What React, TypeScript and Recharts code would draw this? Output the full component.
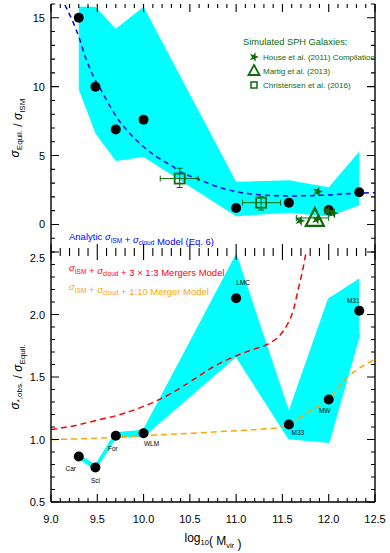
import React from 'react';
import { ComposedChart, Area, Line, Scatter, XAxis, YAxis, ErrorBar } from 'recharts';

// log10(Mvir) of the observed galaxies, shared by both panels
const galaxyMass = [9.3, 9.48, 9.7, 10.0, 11.0, 11.57, 12.0, 12.33];
const galaxyNames = ['Car', 'Scl', 'For', 'WLM', 'LMC', 'M33', 'MW', 'M31'];

// top panel: sigma_equil / sigma_ISM
const equilRatio = [15.0, 10.0, 6.9, 7.6, 1.2, 1.57, 1.04, 2.34];
const equilLow = [9.8, 6.6, 4.6, 4.9, 0.6, 0.85, 0.57, 1.4];
const equilHigh = [15.8, 15.8, 14.2, 15.8, 3.1, 3.2, 2.7, 5.3];

const analyticMass = [9.15, 9.3, 9.37, 9.46, 9.55, 9.64, 9.73, 9.85, 10.0, 10.14, 10.29, 10.43, 10.57, 10.75, 11.0, 11.27, 11.58, 12.0, 12.33, 12.5];
const analyticRatio = [15.93, 13.63, 12.18, 10.72, 9.64, 8.55, 7.58, 6.62, 5.64, 4.92, 4.32, 3.71, 3.35, 2.85, 2.38, 2.14, 2.07, 2.14, 2.28, 2.3];

// simulated SPH galaxies
const houseMass = [11.88, 11.69, 11.87, 11.99, 12.05];
const houseRatio = [2.38, 0.27, 0.37, 0.98, 0.81];
const martigMass = [11.85];
const martigRatio = [0.47];
const martigErrX = [[0.2, 0.15]];
const christensenMass = [10.39, 11.27];
const christensenRatio = [3.33, 1.58];
const christensenErrX = [[0.21, 0.2], [0.2, 0.21]];
const christensenErrY = [[0.65, 0.75], [0.54, 0.42]];

// bottom panel: sigma_obs / sigma_equil
const obsRatio = [0.864, 0.776, 1.03, 1.05, 2.13, 1.12, 1.32, 2.03];
const obsLow = [0.85, 0.765, 1.02, 1.03, 1.67, 1.01, 0.98, 1.84];
const obsHigh = [0.875, 0.79, 1.05, 1.07, 2.47, 1.21, 2.12, 2.28];

const major3Mass = [9.0, 9.25, 9.5, 9.75, 10.0, 10.25, 10.5, 10.75, 11.0, 11.18, 11.36, 11.48, 11.56, 11.62, 11.67, 11.72, 11.76];
const major3Ratio = [1.08, 1.11, 1.155, 1.2, 1.265, 1.35, 1.46, 1.58, 1.67, 1.72, 1.77, 1.84, 1.93, 2.04, 2.2, 2.36, 2.52];
const minor10Mass = [9.0, 9.5, 10.0, 10.5, 11.0, 11.22, 11.5, 11.57, 11.7, 11.76, 11.9, 12.0, 12.19, 12.35, 12.5];
const minor10Ratio = [1.0, 1.01, 1.03, 1.05, 1.07, 1.08, 1.1, 1.12, 1.18, 1.21, 1.27, 1.32, 1.49, 1.58, 1.64];

// ticks
const xTicks = [9.0, 9.1, 9.2, 9.3, 9.4, 9.5, 9.6, 9.7, 9.8, 9.9, 10.0, 10.1, 10.2, 10.3, 10.4, 10.5, 10.6, 10.7, 10.8, 10.9, 11.0, 11.1, 11.2, 11.3, 11.4, 11.5, 11.6, 11.7, 11.8, 11.9, 12.0, 12.1, 12.2, 12.3, 12.4, 12.5];
const xLabels = [9.0, 9.5, 10.0, 10.5, 11.0, 11.5, 12.0, 12.5];
const topYTicks = [-2, -1, 0, 1, 2, 3, 4, 5, 6, 7, 8, 9, 10, 11, 12, 13, 14, 15, 16];
const topYLabels = [0, 5, 10, 15];
const botYTicks = [0.5, 0.6, 0.7, 0.8, 0.9, 1.0, 1.1, 1.2, 1.3, 1.4, 1.5, 1.6, 1.7, 1.8, 1.9, 2.0, 2.1, 2.2, 2.3, 2.4, 2.5];
const botYLabels = [0.5, 1.0, 1.5, 2.0, 2.5];

const GREEN = '#0d6b0d';
const CYAN = '#00ffff';
const FONT = '"Liberation Sans", Arial, Helvetica, sans-serif';

// plot boxes (page pixels)
const PLOT_L = 51;
const PLOT_R = 375;
const TOP_BOX = { top: 4, bottom: 252, lo: -2, hi: 16 };
const BOT_BOX = { top: 252, bottom: 502, lo: 0.5, hi: 2.5 };

const pairs = (xs: number[], ys: number[]) => xs.map((m, i) => ({ m, v: ys[i] }));

const equilBand = galaxyMass.map((m, i) => ({ m, band: [equilLow[i], equilHigh[i]] }));
const equilDots = pairs(galaxyMass, equilRatio);
const analyticCurve = pairs(analyticMass, analyticRatio);
const houseDots = pairs(houseMass, houseRatio);
const martigDots = martigMass.map((m, i) => ({ m, v: martigRatio[i], ex: martigErrX[i] }));
const christensenDots = christensenMass.map((m, i) => ({
  m,
  v: christensenRatio[i],
  ex: christensenErrX[i],
  ey: christensenErrY[i],
}));

const obsBand = galaxyMass.map((m, i) => ({ m, band: [obsLow[i], obsHigh[i]] }));
const obsDots = galaxyMass.map((m, i) => ({ m, v: obsRatio[i], name: galaxyNames[i] }));
const major3Curve = pairs(major3Mass, major3Ratio);
const minor10Curve = pairs(minor10Mass, minor10Ratio);

const labelOffsets: Record<string, [number, number]> = {
  Car: [-8, 12],
  Scl: [0, 13],
  For: [-3, 13],
  WLM: [8, 10],
  LMC: [7, -16],
  M33: [9, 8],
  MW: [-4, 11],
  M31: [-6, -10],
};

const isMajor = (majors: number[], v: number) => majors.some((mv) => Math.abs(mv - v) < 1e-6);

// tick labels only; the inward marks are drawn by FrameMarks
function TickLabel(props: any) {
  const { x, y, payload, side, majors, showLabel, fmt, topNudge } = props;
  const v: number = payload.value;
  if (!showLabel || !isMajor(majors, v)) return <g />;
  if (side === 'left') {
    const isTop = Math.abs(v - majors[majors.length - 1]) < 1e-6;
    return (
      <text x={x - 6} y={y + 4 + (isTop ? topNudge || 0 : 0)} textAnchor="end" fontSize={11} fill="#000" fontFamily={FONT}>
        {fmt(v)}
      </text>
    );
  }
  return (
    <text x={x} y={y + 21} textAnchor="middle" fontSize={11} fill="#000" fontFamily={FONT}>
      {fmt(v)}
    </text>
  );
}

function FrameMarks({ box, yTicks, yLabels }: any) {
  const xPx = (v: number) => PLOT_L + ((v - 9) / 3.5) * (PLOT_R - PLOT_L);
  const yPx = (v: number) => box.bottom - ((v - box.lo) / (box.hi - box.lo)) * (box.bottom - box.top);
  const segs: string[] = [];
  xTicks.forEach((v) => {
    const len = isMajor(xLabels, v) ? 8 : 4;
    const px = xPx(v);
    segs.push(`M${px},${box.top}v${len}`, `M${px},${box.bottom}v${-len}`);
  });
  yTicks.forEach((v: number) => {
    const len = isMajor(yLabels, v) ? 8 : 4;
    const py = yPx(v);
    segs.push(`M${PLOT_L},${py}h${len}`, `M${PLOT_R},${py}h${-len}`);
  });
  return <path d={segs.join('')} stroke="#000" strokeWidth={1.1} fill="none" />;
}

const axisLine = { stroke: '#000', strokeWidth: 1.4 };

function BlackDot(props: any) {
  const { cx, cy } = props;
  return <circle cx={cx} cy={cy} r={5} fill="#000" />;
}

function GalaxyDot(props: any) {
  const { cx, cy, payload } = props;
  const off = labelOffsets[payload.name] || [0, 12];
  return (
    <g>
      <circle cx={cx} cy={cy} r={5} fill="#000" />
      <text x={cx + off[0]} y={cy + off[1] + 2.3} textAnchor="middle" fontSize={6.5} fill="#000" fontFamily={FONT}>
        {payload.name}
      </text>
    </g>
  );
}

function starPoints(cx: number, cy: number, ro: number, ri: number) {
  const pts: string[] = [];
  for (let k = 0; k < 10; k++) {
    const r = k % 2 === 0 ? ro : ri;
    const a = -Math.PI / 2 + 0.3 + (k * Math.PI) / 5;
    pts.push(`${cx + r * Math.cos(a)},${cy + r * Math.sin(a)}`);
  }
  return pts.join(' ');
}

function GreenStar(props: any) {
  const { cx, cy } = props;
  return <polygon points={starPoints(cx, cy, 5.5, 2.2)} fill={GREEN} />;
}

function OpenSquare(props: any) {
  const { cx, cy } = props;
  return <rect x={cx - 5} y={cy - 5} width={10} height={10} fill="none" stroke={GREEN} strokeWidth={1.8} />;
}

function OpenTriangle(props: any) {
  const { cx, cy } = props;
  return (
    <polygon
      points={`${cx},${cy - 10} ${cx + 9},${cy + 8} ${cx - 9},${cy + 8}`}
      fill="none"
      stroke={GREEN}
      strokeWidth={2.2}
    />
  );
}

function frame(yDomain: number[], yTicks: number[], yLabels: number[], yFmt: (v: number) => string, bottomLabels: boolean, topNudge = 0) {
  const xFmt = (v: number) => v.toFixed(1);
  return [
    <XAxis
      key="xb"
      xAxisId="b"
      type="number"
      dataKey="m"
      domain={[9, 12.5]}
      allowDataOverflow
      ticks={xTicks}
      interval={0}
      tickSize={0}
      tickMargin={0}
      height={bottomLabels ? 51 : 0}
      axisLine={axisLine}
      tickLine={false}
      tick={<TickLabel side="bottom" majors={xLabels} showLabel={bottomLabels} fmt={xFmt} />}
    />,
    <XAxis
      key="xt"
      xAxisId="t"
      orientation="top"
      type="number"
      dataKey="m"
      domain={[9, 12.5]}
      allowDataOverflow
      ticks={xTicks}
      tickSize={0}
      height={0}
      axisLine={axisLine}
      tickLine={false}
      tick={false}
    />,
    <YAxis
      key="yl"
      yAxisId="l"
      type="number"
      domain={yDomain}
      allowDataOverflow
      ticks={yTicks}
      interval={0}
      tickSize={0}
      tickMargin={0}
      width={51}
      axisLine={axisLine}
      tickLine={false}
      tick={<TickLabel side="left" majors={yLabels} showLabel fmt={yFmt} topNudge={topNudge} />}
    />,
    <YAxis
      key="yr"
      yAxisId="r"
      orientation="right"
      type="number"
      domain={yDomain}
      allowDataOverflow
      ticks={yTicks}
      tickSize={0}
      width={1}
      axisLine={axisLine}
      tickLine={false}
      tick={false}
    />,
  ];
}

const sub = (t: string, size = 6.5, shift = 2.5) => [
  <tspan key={t + 'a'} dy={shift} fontSize={size}>
    {t}
  </tspan>,
  <tspan key={t + 'b'} dy={-shift}>
    {''}
  </tspan>,
];

export default function App() {
  const ax = { xAxisId: 'b', yAxisId: 'l' };
  return (
    <div style={{ position: 'absolute', left: 0, top: 0, width: 390, height: 553, background: '#fff', fontFamily: FONT }}>
      <div style={{ position: 'absolute', left: 0, top: 0 }}>
        <ComposedChart width={390} height={253} margin={{ top: 4, right: 14, bottom: 1, left: 0 }}>
          {frame([-2, 16], topYTicks, topYLabels, (v) => String(v), false)}
          <Area {...ax} data={equilBand} dataKey="band" type="linear" fill={CYAN} fillOpacity={1} stroke="none" isAnimationActive={false} />
          <Line {...ax} data={analyticCurve} dataKey="v" type="monotone" stroke="#0000ff" strokeWidth={1.5} strokeDasharray="5 4" dot={false} isAnimationActive={false} />
          <Scatter {...ax} data={equilDots} dataKey="v" shape={BlackDot} isAnimationActive={false} />
          <Scatter {...ax} data={christensenDots} dataKey="v" shape={OpenSquare} isAnimationActive={false}>
            <ErrorBar dataKey="ex" direction="x" width={3} stroke={GREEN} strokeWidth={1} />
            <ErrorBar dataKey="ey" direction="y" width={3} stroke={GREEN} strokeWidth={1} />
          </Scatter>
          <Scatter {...ax} data={martigDots} dataKey="v" shape={OpenTriangle} isAnimationActive={false}>
            <ErrorBar dataKey="ex" direction="x" width={3} stroke={GREEN} strokeWidth={1} />
          </Scatter>
          <Scatter {...ax} data={houseDots} dataKey="v" shape={GreenStar} isAnimationActive={false} />
        </ComposedChart>
      </div>
      <div style={{ position: 'absolute', left: 0, top: 247 }}>
        <ComposedChart width={390} height={306} margin={{ top: 5, right: 14, bottom: 0, left: 0 }}>
          {frame([0.5, 2.5], botYTicks, botYLabels, (v) => v.toFixed(1), true, 6)}
          <Area {...ax} data={obsBand} dataKey="band" type="linear" fill={CYAN} fillOpacity={1} stroke={CYAN} strokeWidth={2} isAnimationActive={false} />
          <Line {...ax} data={major3Curve} dataKey="v" type="monotone" stroke="#ff0000" strokeWidth={1.5} strokeDasharray="6 4" dot={false} isAnimationActive={false} />
          <Line {...ax} data={minor10Curve} dataKey="v" type="monotone" stroke="#ffa500" strokeWidth={1.5} strokeDasharray="6 4" dot={false} isAnimationActive={false} />
          <Scatter {...ax} data={obsDots} dataKey="v" shape={GalaxyDot} isAnimationActive={false} />
        </ComposedChart>
      </div>
      <svg width={390} height={553} style={{ position: 'absolute', left: 0, top: 0, pointerEvents: 'none' }} fontFamily={FONT}>
        <FrameMarks box={TOP_BOX} yTicks={topYTicks} yLabels={topYLabels} />
        <FrameMarks box={BOT_BOX} yTicks={botYTicks} yLabels={botYLabels} />

        {/* legend, top panel */}
        <text x={243} y={45} fontSize={9.3} fill={GREEN}>Simulated SPH Galaxies:</text>
        <polygon points={starPoints(254, 57, 5, 2)} fill={GREEN} />
        <text x={263} y={60} fontSize={8} fill={GREEN}>House et al. (2011) Compilation</text>
        <polygon points="254,65 259.5,75 248.5,75" fill="none" stroke={GREEN} strokeWidth={1.8} />
        <text x={263} y={74} fontSize={8} fill={GREEN}>Martig et al. (2013)</text>
        <rect x={251} y={82} width={6} height={6} fill="none" stroke={GREEN} strokeWidth={1.5} />
        <text x={263} y={88} fontSize={8} fill={GREEN}>Christensen et al. (2016)</text>

        <text x={69} y={240} fontSize={9.5} fill="#0000ff">
          Analytic <tspan fontStyle="italic">σ</tspan>
          {sub('ISM')} + <tspan fontStyle="italic">σ</tspan>
          {sub('cloud')} Model (Eq. 6)
        </text>

        <text x={69} y={271} fontSize={9.5} fill="#ff0000">
          <tspan fontStyle="italic">σ</tspan>
          {sub('ISM')} + <tspan fontStyle="italic">σ</tspan>
          {sub('cloud')} + 3 × 1:3 Mergers Model
        </text>
        <text x={69} y={290} fontSize={9.5} fill="#ffa500">
          <tspan fontStyle="italic">σ</tspan>
          {sub('ISM')} + <tspan fontStyle="italic">σ</tspan>
          {sub('cloud')} + 1:10 Merger Model
        </text>

        {/* axis titles */}
        <text transform="translate(19,128) rotate(-90)" textAnchor="middle" fontSize={12} fill="#000">
          <tspan fontStyle="italic">σ</tspan>
          {sub('Equil.', 8, 3)} / <tspan fontStyle="italic">σ</tspan>
          {sub('ISM', 8, 3)}
        </text>
        <text transform="translate(19,377) rotate(-90)" textAnchor="middle" fontSize={12} fill="#000">
          <tspan fontStyle="italic">σ</tspan>
          {sub('*,obs.', 8, 3)} / <tspan fontStyle="italic">σ</tspan>
          {sub('Equil.', 8, 3)}
        </text>
        <text x={213} y={542} textAnchor="middle" fontSize={12} fill="#000">
          log{sub('10', 7.5, 3)}( M{sub('vir', 7.5, 3)} )
        </text>
      </svg>
    </div>
  );
}
